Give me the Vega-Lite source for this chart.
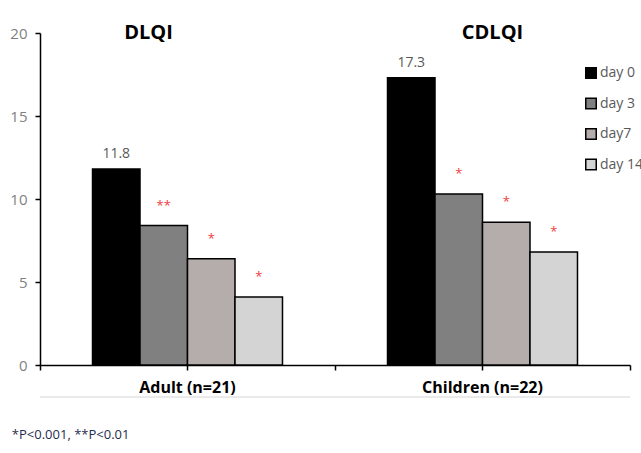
{
  "$schema": "https://vega.github.io/schema/vega-lite/v6.json",
  "width": 590,
  "height": 332,
  "autosize": "none",
  "padding": {"left": 40, "top": 33, "right": 11, "bottom": 88},
  "config": {"view": {"stroke": null}, "font": "Open Sans"},
  "title": {"text": "*P<0.001, **P<0.01", "orient": "bottom", "anchor": "start", "dx": 2, "offset": 31, "fontSize": 13, "font": "Open Sans", "fontWeight": "normal", "color": "#1f2d4d"},
  "datasets": {
    "scores": [
      {"group": "Adult (n=21)", "day": "day 0", "value": 11.8, "label": "11.8", "sig": ""},
      {"group": "Adult (n=21)", "day": "day 3", "value": 8.4, "label": "", "sig": "**"},
      {"group": "Adult (n=21)", "day": "day7", "value": 6.4, "label": "", "sig": "*"},
      {"group": "Adult (n=21)", "day": "day 14", "value": 4.1, "label": "", "sig": "*"},
      {"group": "Children (n=22)", "day": "day 0", "value": 17.3, "label": "17.3", "sig": ""},
      {"group": "Children (n=22)", "day": "day 3", "value": 10.3, "label": "", "sig": "*"},
      {"group": "Children (n=22)", "day": "day7", "value": 8.6, "label": "", "sig": "*"},
      {"group": "Children (n=22)", "day": "day 14", "value": 6.8, "label": "", "sig": "*"}
    ],
    "titles": [
      {"group": "Adult (n=21)", "name": "DLQI"},
      {"group": "Children (n=22)", "name": "CDLQI"}
    ]
  },
  "resolve": {"scale": {"x": "independent"}, "axis": {"x": "independent"}},
  "layer": [
    {
      "data": {"name": "scores"},
      "mark": {"type": "bar", "stroke": "black", "strokeWidth": 1.5},
      "encoding": {
        "x": {"field": "group", "type": "nominal",
          "scale": {"type": "band", "domain": ["Adult (n=21)", "Children (n=22)"], "paddingInner": 0.356, "paddingOuter": 0.178},
          "axis": {"title": null, "orient": "bottom", "labelAngle": 0, "labelFont": "Open Sans", "labelFontSize": 16, "labelFontWeight": "bold", "labelColor": "black",
            "domainColor": "black", "domainWidth": 1.5, "tickColor": "black", "tickWidth": 1.5, "tickSize": 5, "labelPadding": 9}},
        "xOffset": {"field": "day", "type": "nominal", "sort": ["day 0", "day 3", "day7", "day 14"]},
        "y": {"field": "value", "type": "quantitative", "scale": {"domain": [0, 20]},
          "axis": {"title": null, "values": [0, 5, 10, 15, 20], "grid": false, "labelFont": "Open Sans", "labelFontSize": 15, "labelColor": "#7f7f7f",
            "domainColor": "black", "domainWidth": 1.5, "tickColor": "black", "tickWidth": 1.5, "tickSize": 5, "labelPadding": 8}},
        "fill": {"field": "day", "type": "nominal", "sort": ["day 0", "day 3", "day7", "day 14"],
          "scale": {"range": ["#000000", "#808080", "#b5adab", "#d4d4d4"]},
          "legend": {"title": null, "orient": "none", "legendX": 544, "legendY": 33, "symbolType": "square", "symbolSize": 110,
            "symbolStrokeColor": "black", "symbolStrokeWidth": 1.5, "labelFont": "Open Sans", "labelFontSize": 14, "labelColor": "#595959",
            "rowPadding": 12.5, "labelOffset": 2}}
      }
    },
    {
      "data": {"name": "scores"},
      "mark": {"type": "text", "baseline": "alphabetic", "dy": -11, "fontSize": 14, "font": "Open Sans", "color": "#595959"},
      "encoding": {
        "x": {"field": "group", "type": "nominal", "scale": {"type": "band", "domain": ["Adult (n=21)", "Children (n=22)"], "paddingInner": 0.356, "paddingOuter": 0.178}, "axis": null},
        "xOffset": {"field": "day", "type": "nominal", "sort": ["day 0", "day 3", "day7", "day 14"]},
        "y": {"field": "value", "type": "quantitative"},
        "text": {"field": "label"}
      }
    },
    {
      "data": {"name": "scores"},
      "mark": {"type": "text", "baseline": "middle", "dy": -20, "fontSize": 13, "font": "Open Sans", "color": "#f03c3c"},
      "encoding": {
        "x": {"field": "group", "type": "nominal", "scale": {"type": "band", "domain": ["Adult (n=21)", "Children (n=22)"], "paddingInner": 0.356, "paddingOuter": 0.178}, "axis": null},
        "xOffset": {"field": "day", "type": "nominal", "sort": ["day 0", "day 3", "day7", "day 14"]},
        "y": {"field": "value", "type": "quantitative"},
        "text": {"field": "sig"}
      }
    },
    {
      "data": {"name": "titles"},
      "transform": [{"filter": "datum.name === 'DLQI'"}],
      "mark": {"type": "text", "baseline": "middle", "dx": -39, "fontSize": 20, "fontWeight": "bold", "font": "Open Sans", "color": "black"},
      "encoding": {
        "x": {"field": "group", "type": "nominal",
          "scale": {"type": "band", "domain": ["Adult (n=21)", "Children (n=22)"], "paddingInner": 0, "paddingOuter": 0},
          "axis": {"orient": "bottom", "title": null, "labels": false, "domain": false, "tickBand": "extent", "tickColor": "black", "tickWidth": 1.5, "tickSize": 5}},
        "y": {"datum": 20, "type": "quantitative"},
        "text": {"field": "name"}
      }
    },
    {
      "data": {"name": "titles"},
      "transform": [{"filter": "datum.name === 'CDLQI'"}],
      "mark": {"type": "text", "baseline": "middle", "dx": 10, "fontSize": 20, "fontWeight": "bold", "font": "Open Sans", "color": "black"},
      "encoding": {
        "x": {"field": "group", "type": "nominal", "scale": {"type": "band", "domain": ["Adult (n=21)", "Children (n=22)"], "paddingInner": 0, "paddingOuter": 0}, "axis": null},
        "y": {"datum": 20, "type": "quantitative"},
        "text": {"field": "name"}
      }
    },
    {
      "data": {"name": "titles"},
      "mark": {"type": "rule", "color": "#e3e3e3", "strokeWidth": 1},
      "encoding": {
        "y": {"datum": -1.93, "type": "quantitative"}
      }
    }
  ]
}
